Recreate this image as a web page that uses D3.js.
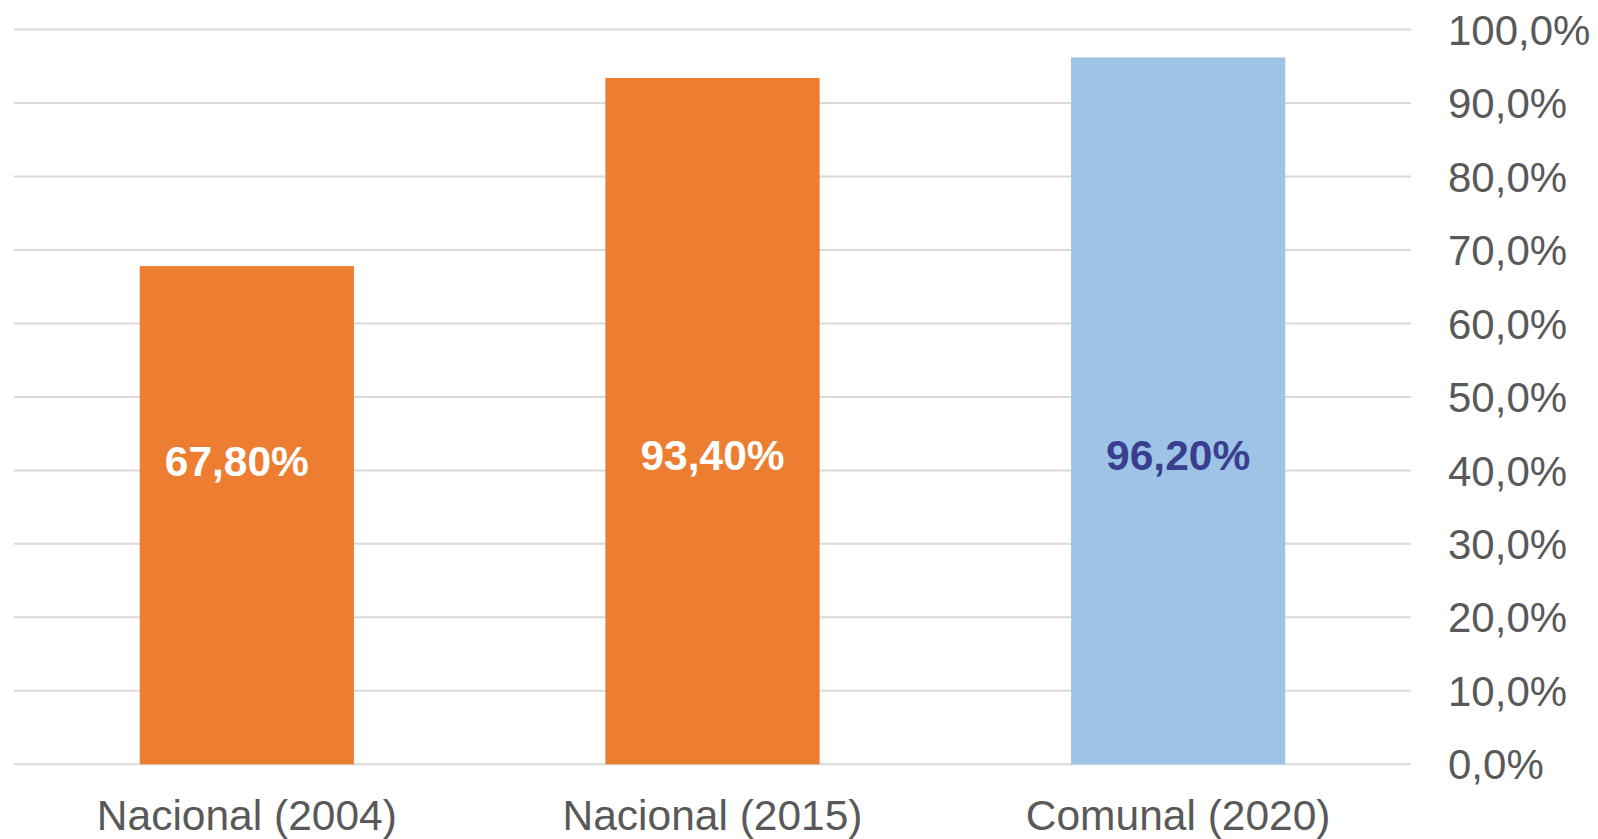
<!DOCTYPE html>
<html>
<head>
<meta charset="utf-8">
<script src="https://cdn.jsdelivr.net/npm/d3@7"></script>
<style>
  html, body { margin: 0; padding: 0; background: #ffffff; }
  svg { display: block; font-family: "Liberation Sans", Arial, sans-serif; }
</style>
</head>
<body>
<script>
const categories = ["Nacional (2004)", "Nacional (2015)", "Comunal (2020)"];
const values = [0.678, 0.934, 0.962];
const valueLabels = ["67,80%", "93,40%", "96,20%"];
const barColors = ["#ED7D31", "#ED7D31", "#9DC3E6"];
const labelColors = ["#ffffff", "#ffffff", "#393F8E"];
const yTicks = [0, 0.1, 0.2, 0.3, 0.4, 0.5, 0.6, 0.7, 0.8, 0.9, 1.0];

const width = 1598, height = 839;
const svg = d3.select("body").append("svg").attr("width", width).attr("height", height);

const x = d3.scaleBand().domain(categories).range([14, 1411]).paddingInner(0.54).paddingOuter(0.27);
const y = d3.scaleLinear().domain([0, 1]).range([764.3, 29.5]);
const fmt = d => d3.format(".1f")(d * 100).replace(".", ",") + "%";

// gridlines
svg.selectAll("line.grid")
  .data(yTicks)
  .enter().append("line")
  .attr("class", "grid")
  .attr("x1", 14).attr("x2", 1411)
  .attr("y1", d => y(d)).attr("y2", d => y(d))
  .attr("stroke", "#D9D9D9")
  .attr("stroke-width", 2);

// y axis labels on the right
svg.selectAll("text.ytick")
  .data(yTicks)
  .enter().append("text")
  .attr("class", "ytick")
  .attr("x", 1448)
  .attr("y", d => y(d))
  .attr("dy", "0.36em")
  .attr("font-size", 42)
  .attr("fill", "#595959")
  .text(fmt);

// bars
svg.selectAll("rect.bar")
  .data(categories)
  .enter().append("rect")
  .attr("class", "bar")
  .attr("x", d => x(d))
  .attr("width", x.bandwidth())
  .attr("y", (d, i) => y(values[i]))
  .attr("height", (d, i) => y(0) - y(values[i]))
  .attr("fill", (d, i) => barColors[i]);

// value labels (first one sits a bit left and lower, as in the original)
svg.selectAll("text.value")
  .data(categories)
  .enter().append("text")
  .attr("class", "value")
  .attr("x", (d, i) => x(d) + x.bandwidth() / 2 - (i === 0 ? 10 : 0))
  .attr("y", (d, i) => y(0.40) + (i === 0 ? 6 : 0))
  .attr("text-anchor", "middle")
  .attr("font-size", 42.5)
  .attr("font-weight", "bold")
  .attr("fill", (d, i) => labelColors[i])
  .text((d, i) => valueLabels[i]);

// category labels
svg.selectAll("text.cat")
  .data(categories)
  .enter().append("text")
  .attr("class", "cat")
  .attr("x", d => x(d) + x.bandwidth() / 2)
  .attr("y", 830)
  .attr("text-anchor", "middle")
  .attr("font-size", 42.5)
  .attr("fill", "#595959")
  .text(d => d);
</script>
</body>
</html>
